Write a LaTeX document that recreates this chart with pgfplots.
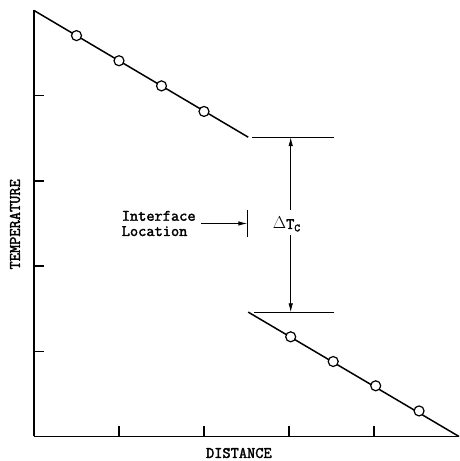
\documentclass[border=0pt]{standalone}
\usepackage{pgfplots}
\pgfplotsset{compat=1.18}
\usepackage{fontspec}
\setmonofont{Latin Modern Mono}[AutoFakeBold=2.2]
\usetikzlibrary{arrows.meta}
\begin{document}
\begin{tikzpicture}
\begin{axis}[
  x=85bp, y=85.2bp,
  xmin=0, xmax=5, ymin=0, ymax=5,
  axis lines=left,
  axis line style={-, line width=1.8bp},
  xtick={1,2,3,4}, ytick={1,2,3,4},
  xticklabels={}, yticklabels={},
  tick align=inside,
  major tick length=10bp,
  tick style={line width=1.5bp, black},
  clip=false,
  font=\fontsize{16}{15.3}\selectfont\ttfamily\bfseries,
]
% upper line
\addplot[black, line width=1.5bp] coordinates {(0,5) (2.52,3.513)};
\addplot[only marks, mark=*, mark size=5bp, mark options={fill=white, draw=black, line width=1.2bp}]
  coordinates {(0.5,4.705) (1.0,4.41) (1.5,4.115) (2.0,3.815)};
% lower line
\addplot[black, line width=1.5bp] coordinates {(2.52,1.46) (5,0)};
\addplot[only marks, mark=*, mark size=5bp, mark options={fill=white, draw=black, line width=1.2bp}]
  coordinates {(3.02,1.17) (3.52,0.88) (4.02,0.595) (4.53,0.30)};
% horizontal reference lines
\addplot[black, line width=1.1bp] coordinates {(2.56,3.513) (3.53,3.513)};
\addplot[black, line width=1.1bp] coordinates {(2.59,1.458) (3.53,1.458)};
% delta T arrows
\draw[-{Latex[length=9bp,width=4.5bp]}, line width=0.8bp] (axis cs:3.02,2.66) -- (axis cs:3.02,3.513);
\draw[-{Latex[length=9bp,width=4.5bp]}, line width=0.8bp] (axis cs:3.02,2.365) -- (axis cs:3.02,1.458);
\node at (axis cs:2.97,2.49) {$\Delta$T\raisebox{-0.35ex}{\fontsize{11}{11}\selectfont C}};
% interface location
\draw[-{Latex[length=9bp,width=4.5bp]}, line width=1.0bp] (axis cs:1.97,2.50) -- (axis cs:2.51,2.50);
\draw[line width=1.1bp] (axis cs:2.51,2.34) -- (axis cs:2.51,2.66);
\node[anchor=west, align=left, inner sep=0pt] at (axis cs:1.03,2.50) {Interface\\Location};
% labels
\node[rotate=90] at (axis cs:-0.224,2.49) {TEMPERATURE};
\node at (axis cs:2.41,-0.194) {DISTANCE};
\coordinate (bbA) at (axis cs:-0.4,-0.2876);
\coordinate (bbB) at (axis cs:5.0,5.123);
\end{axis}
\pgfresetboundingbox
\useasboundingbox (bbA) rectangle (bbB);
\end{tikzpicture}
\end{document}
